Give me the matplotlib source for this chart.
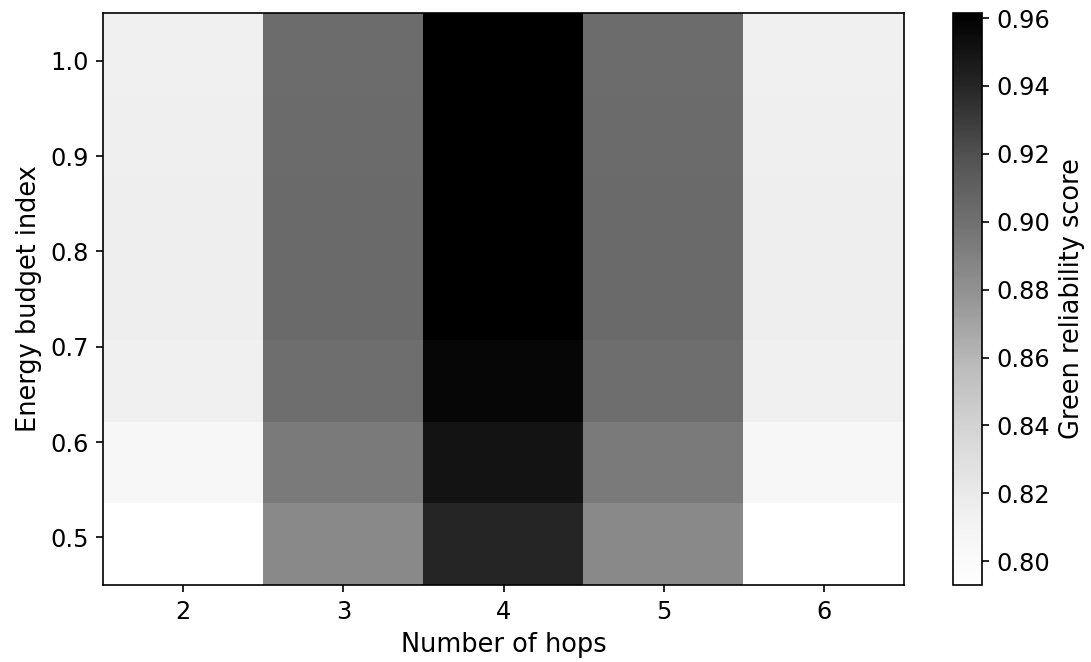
import numpy as np
import matplotlib
matplotlib.use("Agg")
import matplotlib.pyplot as plt

plt.rcParams["font.size"] = 11.5
plt.rcParams["axes.labelsize"] = 12.3

# data
hops = [2, 3, 4, 5, 6]
energy_budget = [0.5, 0.583, 0.667, 0.75, 0.833, 0.917, 1.0]

# reliability score, one list per hop count (bottom row -> top row)
score_hop2 = [0.793, 0.804, 0.814, 0.8155, 0.8155, 0.8145, 0.814]
score_hop3 = [0.8845, 0.894, 0.901, 0.904, 0.904, 0.9034, 0.9028]
score_hop4 = [0.9404, 0.950, 0.957, 0.9609, 0.9615, 0.9615, 0.9609]
score_hop5 = [0.8845, 0.894, 0.901, 0.904, 0.904, 0.9034, 0.9028]
score_hop6 = [0.793, 0.804, 0.814, 0.8155, 0.8155, 0.8145, 0.814]

Z = np.array([score_hop2, score_hop3, score_hop4, score_hop5, score_hop6]).T

dx = 0.5
dy = 0.05

fig = plt.figure(figsize=(1091 / 150, 662 / 150), dpi=150)
ax = fig.add_axes([103 / 1091, 1 - 585 / 662, 801 / 1091, 572 / 662])
cax = fig.add_axes([953 / 1091, 1 - 585 / 662, 29 / 1091, 572 / 662])

im = ax.imshow(Z, origin="lower", cmap="Greys", aspect="auto",
               extent=[hops[0] - dx, hops[-1] + dx,
                       energy_budget[0] - dy, energy_budget[-1] + dy])
ax.set_xticks(hops)
ax.set_yticks([0.5, 0.6, 0.7, 0.8, 0.9, 1.0])
ax.set_xlabel("Number of hops")
ax.set_ylabel("Energy budget index")

cb = fig.colorbar(im, cax=cax)
cb.set_label("Green reliability score", fontsize=12.3)

fig.savefig("out.png", dpi=150)
